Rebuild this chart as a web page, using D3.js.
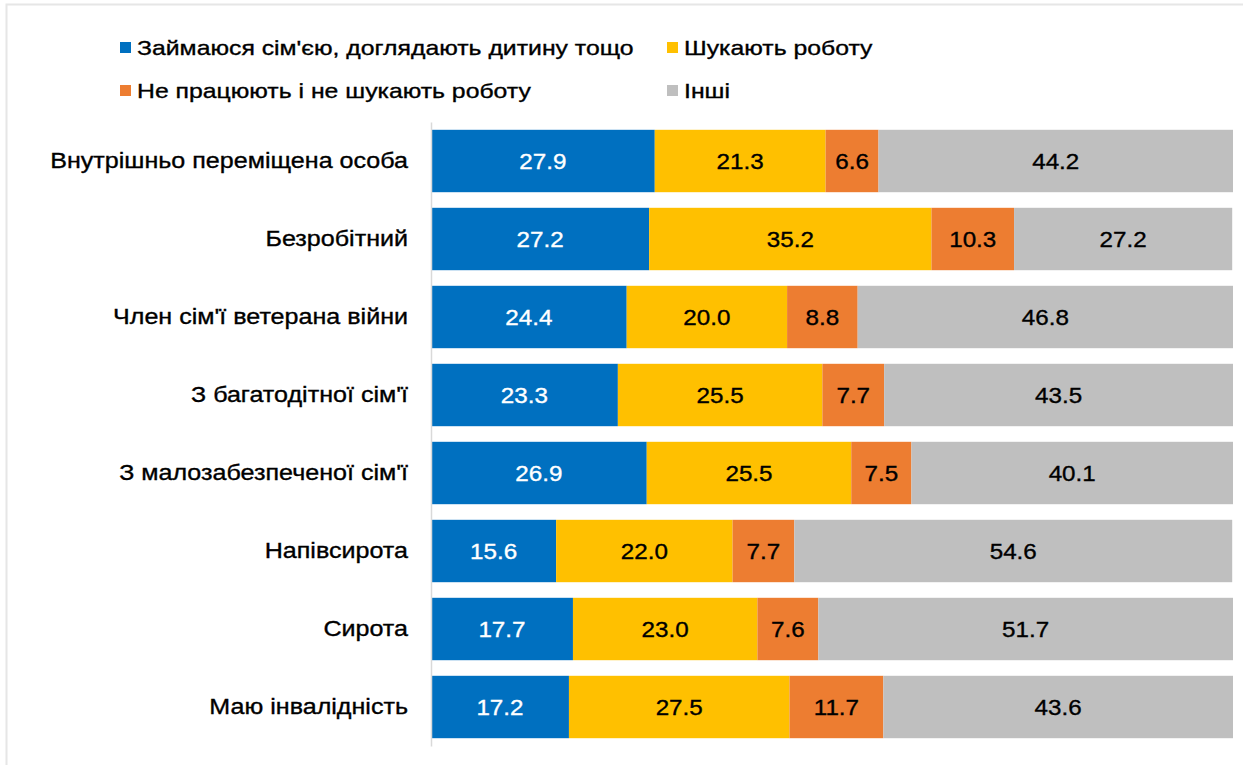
<!DOCTYPE html>
<html>
<head>
<meta charset="utf-8">
<script src="https://cdn.jsdelivr.net/npm/d3@7"></script>
<style>
  body { margin: 0; background: #fff; }
  svg { display: block; font-family: "Liberation Sans", Arial, sans-serif; }
</style>
</head>
<body>
<svg width="1243" height="765"></svg>
<script>
// data (percent)
const categories = [
    "Внутрішньо переміщена особа",
    "Безробітний",
    "Член сім'ї ветерана війни",
    "З багатодітної сім'ї",
    "З малозабезпеченої сім'ї",
    "Напівсирота",
    "Сирота",
    "Маю інвалідність"
];
const seriesNames = [
    "Займаюся сім'єю, доглядають дитину тощо",
    "Шукають роботу",
    "Не працюють і не шукають роботу",
    "Інші"
];
const familyCare = [27.9, 27.2, 24.4, 23.3, 26.9, 15.6, 17.7, 17.2];
const seekingWork = [21.3, 35.2, 20.0, 25.5, 25.5, 22.0, 23.0, 27.5];
const notSeeking = [6.6, 10.3, 8.8, 7.7, 7.5, 7.7, 7.6, 11.7];
const others = [44.2, 27.2, 46.8, 43.5, 40.1, 54.6, 51.7, 43.6];
const colors = ["#0070C0", "#FFC000", "#ED7D31", "#BFBFBF"];
const labelColors = ["#fff", "#000", "#000", "#000"];

let svg = d3.select("svg");

// the original text is rendered a bit wider than plain Arial
function stretch(sel, k) {
    sel.each(function() {
        let w = this.getComputedTextLength();
        d3.select(this)
            .attr("textLength", w * k)
            .attr("lengthAdjust", "spacingAndGlyphs");
    });
}

// outer frame of the original chart
svg.append("rect")
    .attr("x", 6.5).attr("y", 4.5)
    .attr("width", 1260).attr("height", 800)
    .attr("fill", "none")
    .attr("stroke", "#e6e6e6")
    .attr("stroke-width", 2);

let rows = categories.map((c, i) => ({
    name: c,
    s0: familyCare[i], s1: seekingWork[i], s2: notSeeking[i], s3: others[i]
}));
let keys = ["s0", "s1", "s2", "s3"];
let stacked = d3.stack().keys(keys)(rows);

let x = d3.scaleLinear().domain([0, 100]).range([431, 1233]);
let y = d3.scaleBand().domain(categories).range([122, 746])
    .paddingInner(0.2).paddingOuter(0.1);

// bars
let layer = svg.selectAll("g.layer")
    .data(stacked)
    .enter().append("g")
    .attr("class", "layer")
    .attr("fill", (d, i) => colors[i]);

layer.selectAll("rect")
    .data(d => d)
    .enter().append("rect")
    .attr("x", d => x(d[0]))
    .attr("y", d => y(d.data.name))
    .attr("width", d => x(d[1]) - x(d[0]))
    .attr("height", y.bandwidth());

// value labels
let fmt = d3.format(".1f");
layer.each(function(s, i) {
    let t = d3.select(this).selectAll("text")
        .data(s)
        .enter().append("text")
        .attr("x", d => (x(d[0]) + x(d[1])) / 2)
        .attr("y", d => y(d.data.name) + y.bandwidth() / 2)
        .attr("dy", "0.36em")
        .attr("text-anchor", "middle")
        .attr("fill", labelColors[i])
        .attr("stroke", labelColors[i])
        .attr("stroke-width", 0.35)
        .style("font-size", "22px")
        .text(d => fmt(d[1] - d[0]));
    stretch(t, 1.1);
});

// category axis
let yAxis = svg.append("g")
    .attr("transform", "translate(431,0)")
    .call(d3.axisLeft(y).tickSize(0).tickPadding(23));
yAxis.select(".domain").attr("stroke", "#d9d9d9").attr("stroke-width", 1.5);
let catText = yAxis.selectAll("text")
    .style("font-size", "22px")
    .style("font-family", "'Liberation Sans', Arial, sans-serif")
    .attr("fill", "#000")
    .attr("stroke", "#000")
    .attr("stroke-width", 0.35);
stretch(catText, 1.14);

// legend
let legendPos = [[120, 47], [667, 47], [120, 90], [667, 90]];
let legend = svg.selectAll("g.legend")
    .data(seriesNames)
    .enter().append("g")
    .attr("class", "legend")
    .attr("transform", (d, i) => "translate(" + legendPos[i] + ")");
legend.append("rect")
    .attr("x", 0).attr("y", -5)
    .attr("width", 11).attr("height", 11)
    .attr("fill", (d, i) => colors[i]);
let legText = legend.append("text")
    .attr("x", 17)
    .attr("dy", "0.36em")
    .style("font-size", "21px")
    .attr("fill", "#000")
    .attr("stroke", "#000")
    .attr("stroke-width", 0.35)
    .text(d => d);
stretch(legText, 1.18);
</script>
</body>
</html>
